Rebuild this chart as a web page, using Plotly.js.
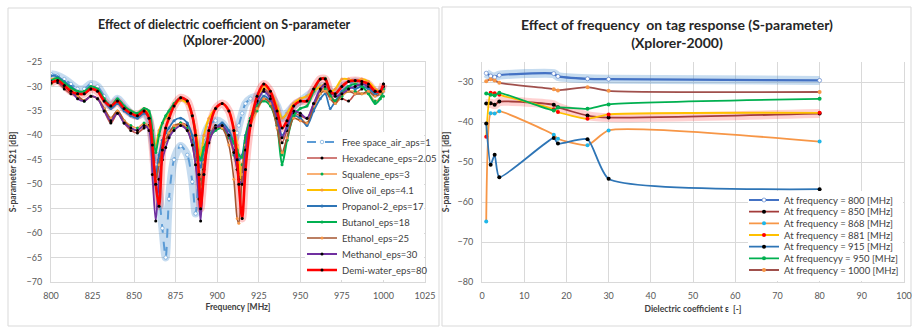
<!DOCTYPE html>
<html>
<head>
<meta charset="utf-8">
<script src="https://cdn.plot.ly/plotly-3.0.1.min.js"></script>
<style>html,body{margin:0;padding:0;background:#fff;}#chart{width:912px;height:327px;}</style>
</head>
<body>
<div id="chart"></div>
<script>
// ---------- Left chart: S21 vs frequency ----------
const freq = [800,804,808,812,816,820,824,828,832,836,840,844,848,852,856,859,861,863,865,867,869,871,874,878,882,885,887,889,890,892,895,899,903,907,910,912,913,915,917,920,924,928,932,936,939,942,946,950,954,958,962,965,968,971,975,979,983,987,991,995,998,1000];

const freeSpace = [-27.5,-27.8,-28.5,-29.5,-30.5,-30.5,-29.5,-30.0,-32.0,-34.0,
  -32.5,-34.0,-35.5,-36.0,-35.5,-37.0,-41.0,-46.0,-52.0,-59.0,
  -65.0,-53.0,-45.0,-42.2,-44.0,-49.5,-56.0,-47.0,-44.5,-40.5,
  -38.0,-37.0,-37.5,-39.5,-41.0,-39.5,-38.0,-35.5,-33.5,-32.5,
  -32.0,-31.5,-32.0,-34.0,-36.5,-35.5,-34.0,-33.0,-32.0,-31.0,
  -30.0,-30.0,-31.0,-31.5,-30.0,-29.5,-29.0,-29.5,-30.0,-31.5,
  -31.0,-30.5];
const hexadecane = [-29.0,-29.2,-30.5,-31.5,-32.0,-33.0,-32.0,-32.5,-35.0,-37.5,
  -35.5,-37.5,-39.0,-39.5,-38.5,-38.0,-44.0,-50.0,-45.0,-42.5,
  -41.0,-40.0,-38.5,-37.5,-38.0,-41.0,-44.5,-50.0,-52.0,-46.0,
  -40.5,-38.0,-38.5,-40.5,-43.0,-46.0,-48.0,-46.0,-41.0,-37.0,
  -33.5,-30.5,-32.0,-37.0,-41.5,-39.0,-35.5,-36.0,-36.5,-33.5,
  -31.0,-30.0,-31.5,-33.0,-32.5,-33.0,-31.5,-30.5,-30.0,-31.5,
  -31.0,-29.5];
const squalene = [-29.5,-29.0,-30.0,-31.0,-32.0,-33.0,-32.0,-32.5,-34.5,-36.5,
  -35.0,-37.0,-38.0,-38.5,-37.5,-38.5,-43.0,-48.5,-46.0,-43.0,
  -41.0,-39.5,-38.5,-37.5,-38.5,-41.5,-45.0,-48.0,-49.0,-45.0,
  -41.0,-38.5,-38.0,-40.5,-44.0,-47.0,-48.5,-46.0,-42.0,-38.0,
  -35.0,-32.5,-33.0,-38.0,-44.0,-41.0,-36.0,-36.5,-37.5,-34.5,
  -31.5,-30.5,-32.0,-33.5,-32.0,-31.0,-31.0,-31.5,-31.5,-33.0,
  -32.5,-32.0];
const oliveOil = [-28.5,-28.5,-29.5,-30.5,-31.0,-31.5,-30.5,-31.0,-33.0,-34.0,
  -33.0,-34.5,-35.0,-35.5,-34.5,-35.5,-40.0,-42.0,-39.0,-37.5,
  -36.5,-35.5,-34.0,-32.8,-33.5,-36.0,-39.0,-43.0,-44.5,-40.0,
  -36.5,-34.5,-33.5,-35.0,-38.5,-42.0,-44.5,-50.0,-43.0,-36.5,
  -32.5,-30.0,-31.0,-34.0,-36.5,-35.5,-33.5,-32.5,-32.0,-31.0,
  -30.0,-29.5,-31.0,-30.5,-28.5,-28.5,-29.0,-28.5,-29.0,-30.5,
  -31.0,-30.0];
const propanol = [-27.8,-28.0,-29.0,-30.0,-31.0,-31.5,-30.5,-31.0,-33.0,-34.5,
  -33.5,-35.0,-36.0,-36.5,-35.5,-36.5,-42.0,-48.0,-44.0,-41.0,
  -39.5,-38.5,-37.0,-36.5,-37.5,-40.0,-43.0,-46.0,-46.5,-43.0,
  -40.0,-38.5,-37.5,-39.0,-41.5,-44.0,-45.0,-44.0,-40.0,-36.5,
  -34.0,-32.0,-33.0,-36.0,-40.0,-38.5,-36.0,-36.5,-38.0,-35.0,
  -32.5,-31.5,-34.5,-33.0,-31.0,-30.0,-30.5,-30.0,-30.5,-31.5,
  -31.0,-30.0];
const butanol = [-28.8,-28.3,-29.3,-30.3,-31.0,-31.0,-30.0,-30.5,-32.5,-34.0,
  -32.5,-34.0,-35.0,-35.5,-34.5,-35.0,-39.0,-43.5,-40.0,-37.5,
  -36.0,-35.0,-33.5,-32.3,-33.0,-36.0,-40.0,-44.5,-45.0,-42.5,
  -40.5,-39.0,-38.5,-40.0,-41.5,-43.0,-44.0,-44.5,-40.5,-36.5,
  -34.0,-33.0,-34.0,-38.0,-46.0,-41.0,-36.0,-34.5,-34.0,-31.0,
  -28.5,-28.3,-32.0,-33.0,-31.5,-30.0,-29.5,-30.0,-31.5,-33.5,
  -32.5,-30.5];
const ethanol = [-29.3,-29.0,-30.0,-31.0,-32.0,-32.8,-32.0,-32.5,-34.5,-36.5,
  -35.0,-37.0,-38.5,-39.0,-38.0,-38.5,-43.0,-49.0,-46.0,-43.0,
  -41.0,-39.5,-38.0,-37.8,-39.0,-42.0,-46.0,-50.0,-50.5,-45.5,
  -41.0,-38.5,-38.5,-42.0,-49.0,-57.0,-58.0,-48.0,-42.0,-37.0,
  -34.5,-32.5,-33.5,-38.5,-43.5,-40.5,-36.5,-37.0,-37.5,-34.0,
  -31.5,-31.0,-32.5,-33.5,-31.5,-31.0,-31.5,-31.5,-31.0,-32.0,
  -31.5,-31.0];
const methanol = [-29.0,-29.0,-30.0,-31.0,-32.5,-33.0,-32.0,-32.5,-35.0,-37.0,
  -35.5,-37.5,-38.5,-39.0,-38.0,-39.0,-48.0,-57.5,-49.0,-45.0,
  -42.5,-40.5,-39.0,-38.0,-39.0,-42.0,-46.0,-53.0,-57.5,-47.0,
  -41.5,-38.5,-38.0,-40.0,-43.5,-47.0,-49.0,-50.0,-43.0,-37.0,
  -33.0,-31.0,-32.5,-36.5,-40.5,-38.0,-35.0,-35.5,-36.5,-33.5,
  -30.5,-29.5,-31.0,-32.0,-31.5,-30.5,-30.0,-29.5,-30.0,-31.0,
  -31.0,-30.0];
const demiWater = [-29.3,-28.8,-29.8,-31.0,-31.5,-31.5,-30.5,-31.0,-33.0,-34.0,
  -33.0,-34.5,-35.5,-36.0,-35.0,-36.5,-42.0,-50.0,-54.5,-43.0,
  -38.5,-36.5,-34.0,-32.3,-33.0,-36.0,-40.0,-48.0,-55.0,-48.0,
  -39.0,-34.5,-33.5,-35.0,-39.0,-45.0,-50.0,-57.0,-47.0,-38.0,
  -32.0,-29.5,-31.0,-35.0,-38.5,-37.0,-34.0,-33.0,-33.0,-30.5,
  -28.5,-28.5,-31.0,-31.5,-30.0,-29.0,-28.8,-29.0,-29.5,-31.0,
  -31.0,-29.5];

const leftNames = ['Free space_air_aps=1','Hexadecane_eps=2.05','Squalene_eps=3','Olive oil_eps=4.1','Propanol-2_eps=17','Butanol_eps=18','Ethanol_eps=25','Methanol_eps=30','Demi-water_eps=80'];

// ---------- Right chart: S21 vs dielectric coefficient ----------
const eps = [1, 2.05, 3, 4.1, 17, 18, 25, 30, 80];
const f800 = [-27.8,-28.5,-28.8,-28.3,-27.9,-28.6,-29.2,-29.3,-29.6];
const f850 = [-35.4,-35.3,-35.7,-34.9,-35.7,-36.3,-38.4,-38.9,-37.9];
const f868 = [-64.9,-37.8,-37.9,-37.3,-43.2,-44.2,-45.8,-42.1,-44.9];
const f881 = [-43.7,-32.7,-32.8,-33.2,-36.8,-37.5,-39.2,-38.1,-37.7];
const f915 = [-40.4,-50.7,-48.2,-53.8,-44.0,-45.4,-44.3,-54.2,-56.8];
const f950 = [-32.9,-33.2,-33.4,-32.7,-37.1,-36.4,-36.7,-35.6,-34.2];
const f1000 = [-29.8,-29.3,-29.6,-30.2,-31.8,-32.1,-31.3,-32.2,-32.5];

const rightNames = ['At frequency = 800 [MHz]','At frequency = 850 [MHz]','At frequency = 868 [MHz]','At frequency = 881 [MHz]','At frequency = 915 [MHz]','At frequencyy = 950 [MHz]','At frequency = 1000 [MHz]'];

// ---------- styling ----------
const FONT = 'Lato, "Open Sans", sans-serif';
const W = 912, H = 327;
const px = v => v / W;
const py = v => 1 - v / H;

const leftSeries = [freeSpace, hexadecane, squalene, oliveOil, propanol, butanol, ethanol, methanol, demiWater];
const leftLine = ['#5B9BD5','#C0504D','#F79646','#FFC000','#2E75B6','#00B050','#A5552F','#7030A0','#FF0000'];
const leftMark = ['#FFFFFF','#000000','#00B050','#F79646','#2E75B6','#00B050','#F79646','#000000','#000000'];
const leftWidth = [2,1.6,1.6,2,1.8,2,1.6,1.8,2.6];

const rightSeries = [f800, f850, f868, f881, f915, f950, f1000];
const rightLine = ['#4472C4','#A33B3A','#F79646','#FFC000','#2E75B6','#00B050','#A0504C'];
const rightMark = ['#FFFFFF','#000000','#1FB6E8','#FF0000','#000000','#00B050','#F79646'];
const RS = 0.55;

const traces = [];
// glow underlays
traces.push({x: freq, y: freeSpace, xaxis:'x', yaxis:'y', mode:'lines', showlegend:false, hoverinfo:'skip',
  line:{color:'rgba(91,155,213,0.35)', width:8, shape:'spline', smoothing:0.8}});
traces.push({x: freq, y: demiWater, xaxis:'x', yaxis:'y', mode:'lines', showlegend:false, hoverinfo:'skip',
  line:{color:'rgba(255,0,0,0.22)', width:8, shape:'spline', smoothing:0.8}});
traces.push({x: eps, y: f800, xaxis:'x2', yaxis:'y2', mode:'lines', showlegend:false, hoverinfo:'skip',
  line:{color:'rgba(91,155,213,0.35)', width:9, shape:'spline', smoothing:RS}});
traces.push({x: eps, y: f850, xaxis:'x2', yaxis:'y2', mode:'lines', showlegend:false, hoverinfo:'skip',
  line:{color:'rgba(255,0,0,0.18)', width:9, shape:'spline', smoothing:RS}});

const legends = {};
let li = 1;
leftSeries.forEach((s, i) => {
  const lname = li === 1 ? 'legend' : 'legend' + li;
  traces.push({x: freq, y: s, name: leftNames[i], xaxis:'x', yaxis:'y', mode:'lines+markers', legend: lname,
    line:{color:leftLine[i], width:leftWidth[i], shape:'spline', smoothing:0.8, dash: i === 0 ? 'dash' : 'solid'},
    marker:{color:leftMark[i], size: i === 0 ? 3.5 : 3, line:{width: i === 0 ? 0.6 : 0, color:'#5B9BD5'}}});
  legends[lname] = {x: px(302), y: py(142 + 16 * i), xanchor:'left', yanchor:'middle', bgcolor:'rgba(0,0,0,0)',
    borderwidth:0, itemwidth:30, font:{family:FONT, size:9.5, color:'#404040'}};
  li++;
});
rightSeries.forEach((s, i) => {
  const lname = 'legend' + li;
  traces.push({x: eps, y: s, name: rightNames[i], xaxis:'x2', yaxis:'y2', mode:'lines+markers', legend: lname,
    line:{color:rightLine[i], width: i === 0 ? 2.2 : 1.8, shape:'spline', smoothing:RS, dash: 'solid'},
    marker:{color:rightMark[i], size: 4, line:{width: i === 0 ? 0.6 : 0, color:'#4472C4'}}});
  legends[lname] = {x: px(744), y: py(200 + 11.67 * i), xanchor:'left', yanchor:'middle', bgcolor:'rgba(0,0,0,0)',
    borderwidth:0, itemwidth:30, font:{family:FONT, size:9.5, color:'#404040'}};
  li++;
});

const grid = '#D9D9D9';
const tickFont = {family: FONT, size: 9, color: '#595959'};
const axTitleFont = {family: FONT, size: 8.5, color: '#404040'};

const layout = Object.assign({
  width: W, height: H,
  margin: {l:0, r:0, t:0, b:0},
  paper_bgcolor: '#FFFFFF', plot_bgcolor: '#FFFFFF',
  font: {family: FONT, size: 9, color: '#595959'},
  xaxis: {domain:[px(51), px(425)], range:[800,1025], tick0:800, dtick:25, anchor:'y',
    showgrid:true, gridcolor:grid, zeroline:false, showline:true, linecolor:grid, mirror:true,
    ticks:'', ticklabelstandoff:5, tickfont:tickFont,
    title:{text:'<b>Frequency [MHz]</b>', font:axTitleFont, standoff:4}},
  yaxis: {domain:[py(282), py(62)], range:[-70,-25], tick0:-70, dtick:5, anchor:'x',
    showgrid:true, gridcolor:grid, zeroline:false, showline:true, linecolor:grid, mirror:true,
    ticks:'', ticklabelstandoff:6, tickfont:tickFont,
    title:{text:'<b>S-parameter S21 [dB]</b>', font:axTitleFont, standoff:8}},
  xaxis2: {domain:[px(482), px(904)], range:[0,100], tick0:0, dtick:10, anchor:'y2',
    showgrid:true, gridcolor:grid, zeroline:false, showline:true, linecolor:grid,
    ticks:'', ticklabelstandoff:5, tickfont:tickFont,
    title:{text:'<b>Dielectric coefficient ε  [-]</b>', font:axTitleFont, standoff:6}},
  yaxis2: {domain:[py(282), py(62)], range:[-80,-25], tick0:-80, dtick:10, anchor:'x2',
    showgrid:true, gridcolor:grid, zeroline:false, showline:true, linecolor:grid, mirror:true,
    ticks:'', ticklabelstandoff:6, tickfont:tickFont,
    title:{text:'<b>S-parameter S21 [dB]</b>', font:axTitleFont, standoff:6}},
  annotations: [
    {xref:'paper', yref:'paper', x:px(224), y:py(32), xanchor:'center', yanchor:'middle', showarrow:false,
     text:'<b>Effect of dielectric coefficient on S-parameter<br>(Xplorer-2000)</b>',
     font:{family:FONT, size:12.5, color:'#262626'}},
    {xref:'paper', yref:'paper', x:px(677), y:py(34), xanchor:'center', yanchor:'middle', showarrow:false,
     text:'<b>Effect of frequency  on tag response (S-parameter)<br>(Xplorer-2000)</b>',
     font:{family:FONT, size:14, color:'#262626'}}
  ],
  shapes: [
    {type:'rect', xref:'paper', yref:'paper', x0:px(8), x1:px(439), y0:py(326), y1:py(8), line:{color:'#D9D9D9', width:1}, layer:'below'},
    {type:'rect', xref:'paper', yref:'paper', x0:px(442), x1:px(911), y0:py(326), y1:py(7), line:{color:'#D9D9D9', width:1}, layer:'below'},
    {type:'rect', xref:'paper', yref:'paper', x0:px(305), x1:px(424), y0:py(280), y1:py(132), fillcolor:'#FFFFFF', line:{width:0}, layer:'above'},
    {type:'rect', xref:'paper', yref:'paper', x0:px(748), x1:px(903), y0:py(281), y1:py(191), fillcolor:'#FFFFFF', line:{width:0}, layer:'above'}
  ]
}, legends);

Plotly.newPlot('chart', traces, layout, {displayModeBar:false, staticPlot:true});
</script>
</body>
</html>
